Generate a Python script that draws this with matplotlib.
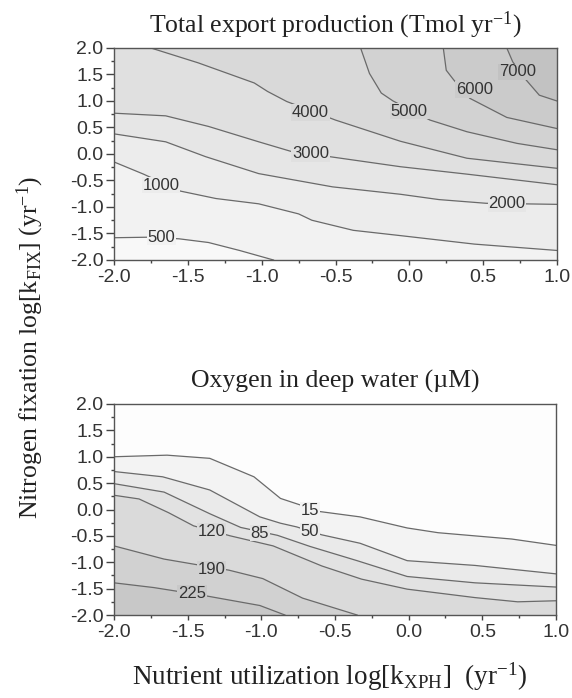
import numpy as np
import matplotlib.pyplot as plt
from matplotlib.ticker import MultipleLocator, FormatStrFormatter

plt.rcParams['font.family'] = 'Liberation Sans'
plt.rcParams['axes.unicode_minus'] = False
plt.rcParams['mathtext.fontset'] = 'custom'
plt.rcParams['mathtext.rm'] = 'Liberation Serif'
plt.rcParams['mathtext.it'] = 'Liberation Serif:italic'
plt.rcParams['mathtext.bf'] = 'Liberation Serif:bold'

XLIM = (-2.0, 1.0)
YLIM = (-2.0, 2.0)

### Total export production (Tmol/yr) - contour lines
exp_levels = [500, 1000, 2000, 3000, 4000, 5000, 6000, 7000]
exp_x = [
    [-2.0, -1.77, -1.56, -1.36, -1.15, -0.92],
    [-2.0, -1.80, -1.55, -1.31, -1.02, -0.75, -0.66, -0.38, -0.06, 0.44, 1.0],
    [-2.0, -1.65, -1.38, -1.02, -0.52, -0.06, 0.20, 0.52, 1.0],
    [-2.0, -1.65, -1.36, -1.02, -0.79, -0.54, -0.06, 0.39, 1.0],
    [-1.75, -1.43, -1.05, -0.96, -0.83, -0.50, -0.06, 0.39, 1.0],
    [-0.33, -0.27, -0.19, -0.11, 0.14, 0.39, 0.73, 1.0],
    [0.23, 0.25, 0.30, 0.41, 0.66, 1.0],
    [0.66, 0.70, 0.79, 0.88, 1.0],
]
exp_y = [
    [-1.58, -1.57, -1.60, -1.67, -1.82, -2.0],
    [-0.15, -0.38, -0.70, -0.84, -0.94, -1.13, -1.25, -1.44, -1.54, -1.70, -1.82],
    [0.38, 0.23, -0.05, -0.37, -0.62, -0.76, -0.86, -0.93, -0.95],
    [0.77, 0.72, 0.52, 0.23, 0.04, -0.05, -0.24, -0.38, -0.58],
    [2.0, 1.72, 1.34, 1.18, 0.99, 0.64, 0.24, -0.08, -0.27],
    [2.0, 1.52, 1.15, 1.0, 0.64, 0.42, 0.20, 0.08],
    [2.0, 1.58, 1.40, 1.05, 0.69, 0.48],
    [2.0, 1.74, 1.40, 1.11, 1.0],
]
exp_label_x = [-1.68, -1.68, 0.66, -0.67, -0.67, 0.0, 0.44, 0.73]
exp_label_y = [-1.57, -0.59, -0.94, 0.01, 0.78, 0.81, 1.22, 1.55]
exp_colors = ['#f8f8f8', '#f2f2f2', '#ececec', '#e6e6e6', '#e0e0e0',
              '#d9d9d9', '#d2d2d2', '#cbcbcb', '#c2c2c2']

### Oxygen in deep water (uM)
oxy_levels = [15, 50, 85, 120, 190, 225]
oxy_x = [
    [-2.0, -1.64, -1.35, -1.05, -0.87, -0.74, -0.60, -0.33, -0.01, 0.20, 0.70, 1.0],
    [-2.0, -1.67, -1.35, -1.01, -0.87, -0.76, -0.59, -0.33, -0.01, 0.45, 1.0],
    [-2.0, -1.66, -1.35, -1.14, -0.89, -0.67, -0.35, -0.01, 0.45, 1.0],
    [-2.0, -1.83, -1.63, -1.46, -1.21, -0.92, -0.59, -0.32, -0.01, 0.45, 0.74, 1.0],
    [-2.0, -1.66, -1.22, -0.99, -0.72, -0.35],
    [-2.0, -1.73, -1.39, -1.01, -0.84],
]
oxy_y = [
    [1.0, 1.03, 0.97, 0.62, 0.21, 0.09, -0.04, -0.14, -0.35, -0.44, -0.56, -0.68],
    [0.72, 0.62, 0.37, -0.14, -0.26, -0.33, -0.48, -0.64, -0.97, -1.06, -1.22],
    [0.49, 0.33, -0.08, -0.34, -0.49, -0.70, -0.97, -1.27, -1.39, -1.47],
    [0.27, 0.20, -0.06, -0.31, -0.50, -0.69, -1.07, -1.32, -1.51, -1.67, -1.75, -1.73],
    [-0.69, -0.94, -1.15, -1.31, -1.68, -2.0],
    [-1.39, -1.48, -1.63, -1.82, -2.0],
]
oxy_label_x = [-0.67, -0.67, -1.01, -1.34, -1.34, -1.47]
oxy_label_y = [-0.01, -0.42, -0.45, -0.42, -1.13, -1.59]
oxy_colors = ['#fdfdfd', '#f3f3f3', '#eaeaea', '#e2e2e2', '#dadada', '#d1d1d1', '#c8c8c8']

LINE = '#6a6a6a'
TXT = '#333333'


def draw_panel(ax, lines_x, lines_y, levels, colors, lab_x, lab_y, corners):
    ax.set_xlim(XLIM)
    ax.set_ylim(YLIM)
    ax.set_facecolor(colors[0])
    # each level fills the region on its "high" side, painted light -> dark
    for i, (xs, ys) in enumerate(zip(lines_x, lines_y)):
        px = list(xs) + [c[0] for c in corners]
        py = list(ys) + [c[1] for c in corners]
        ax.fill(px, py, color=colors[i + 1], lw=0, zorder=1)
    for xs, ys in zip(lines_x, lines_y):
        ax.plot(xs, ys, color=LINE, lw=0.9, zorder=2)
    for i, lev in enumerate(levels):
        ax.text(lab_x[i], lab_y[i], str(lev), ha='center', va='center',
                fontsize=12, color=TXT, zorder=3,
                bbox=dict(fc=colors[i + 1], ec='none', pad=0.5))

    ax.xaxis.set_major_locator(MultipleLocator(0.5))
    ax.xaxis.set_minor_locator(MultipleLocator(0.25))
    ax.yaxis.set_major_locator(MultipleLocator(0.5))
    ax.yaxis.set_minor_locator(MultipleLocator(0.25))
    ax.xaxis.set_major_formatter(FormatStrFormatter('%.1f'))
    ax.yaxis.set_major_formatter(FormatStrFormatter('%.1f'))
    ax.tick_params(which='both', direction='out', colors='#444444',
                   labelcolor=TXT, labelsize=14, width=1)
    ax.tick_params(axis='x', which='major', length=3.5, pad=3)
    ax.tick_params(axis='y', which='major', length=5.5, pad=2)
    ax.tick_params(which='minor', length=2)
    for s in ax.spines.values():
        s.set_color('#555555')
        s.set_linewidth(1.0)


fig = plt.figure(figsize=(5.72, 6.98), dpi=100)
ax1 = fig.add_axes([114 / 572, 1 - 260 / 698, 443 / 572, 212 / 698])
ax2 = fig.add_axes([114 / 572, 1 - 615 / 698, 442 / 572, 211 / 698])

x0, x1 = XLIM
y0, y1 = YLIM
draw_panel(ax1, exp_x, exp_y, exp_levels, exp_colors, exp_label_x, exp_label_y,
           corners=[(x1, y0), (x1, y1), (x0, y1)])
draw_panel(ax2, oxy_x, oxy_y, oxy_levels, oxy_colors, oxy_label_x, oxy_label_y,
           corners=[(x1, y0), (x0, y0)])

serif = dict(fontfamily='Liberation Serif', color='#222222')
ax1.set_title(r'Total export production (Tmol yr$^{\mathrm{-1}}$)', pad=11.5,
              fontsize=18.5, **serif)
ax2.set_title('Oxygen in deep water (\u00b5M)', pad=12, fontsize=18.5, **serif)

fig.text(30 / 572, 1 - 347 / 698,
         r'Nitrogen fixation log[k$_{\mathrm{FIX}}$] (yr$^{\mathrm{-1}}$)',
         rotation=90, ha='center', va='center', fontsize=18.5, **serif)
fig.text(330 / 572, 13 / 698,
         r'Nutrient utilization log[k$_{\mathrm{XPH}}$]  (yr$^{\mathrm{-1}}$)',
         ha='center', va='baseline', fontsize=19.5, **serif)

fig.savefig('out.png', dpi=100)
